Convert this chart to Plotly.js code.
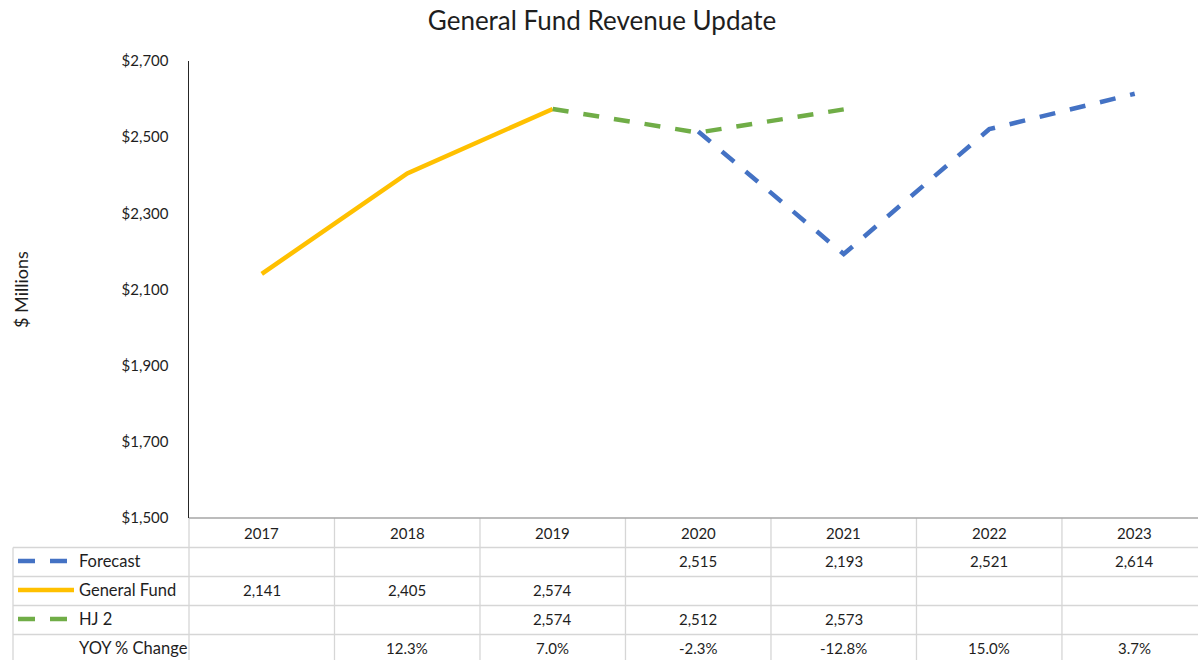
<!DOCTYPE html>
<html>
<head>
<meta charset="utf-8">
<script src="https://cdn.plot.ly/plotly-3.0.1.min.js"></script>
<style>html,body{margin:0;padding:0;background:#fff;}#chart{width:1198px;height:660px;}</style>
</head>
<body>
<div id="chart"></div>
<script>
// ---- data ----
const years = ['2017', '2018', '2019', '2020', '2021', '2022', '2023'];
const forecast = [null, null, null, 2515, 2193, 2521, 2614];
const generalFund = [2141, 2405, 2574, null, null, null, null];
const hj2 = [null, null, 2574, 2512, 2573, null, null];
const yoyChange = ['', '12.3%', '7.0%', '-2.3%', '-12.8%', '15.0%', '3.7%'];
const seriesNames = ['Forecast', 'General Fund', 'HJ 2', 'YOY % Change'];

// ---- styles ----
const FONT = 'Lato, "Open Sans", sans-serif';
const TXT = '#1e1e1e';
const BLUE = '#4472C4', GOLD = '#FFC000', GREEN = '#70AD47';
const GRID = '#d6d6d6';
const W = 1198, H = 660, L = 189, T = 61, B = 518;
const px2x = p => (p - L) / (W - L);
const py2y = p => (B - p) / (B - T);

const fmt = v => (v === null || v === undefined) ? '' : v.toLocaleString('en-US');

const traces = [
  {x: years, y: forecast, name: 'Forecast', mode: 'lines', line: {color: BLUE, width: 4.5, dash: '16px,15px'}},
  {x: years, y: generalFund, name: 'General Fund', mode: 'lines', line: {color: GOLD, width: 4.5}},
  {x: years, y: hj2, name: 'HJ 2', mode: 'lines', line: {color: GREEN, width: 4.5, dash: '16px,15px'}}
];

const rowCenters = [561, 590, 619, 648];
const rowValues = [forecast.map(fmt), generalFund.map(fmt), hj2.map(fmt), yoyChange];

const annotations = [];
// header years (category index positions on the x axis)
years.forEach((y, i) => annotations.push({x: i, xref: 'x', y: py2y(533), yref: 'paper', text: y, showarrow: false,
  font: {family: FONT, size: 15, color: TXT}, xanchor: 'center', yanchor: 'middle'}));
// table values
rowValues.forEach((row, r) => row.forEach((v, i) => {
  if (v !== '') annotations.push({x: i, xref: 'x', y: py2y(rowCenters[r]), yref: 'paper', text: v, showarrow: false,
    font: {family: FONT, size: 15, color: TXT}, xanchor: 'center', yanchor: 'middle'});
}));
// row labels
seriesNames.forEach((n, r) => annotations.push({x: px2x(77), xref: 'paper', y: py2y(rowCenters[r]), yref: 'paper', text: n,
  showarrow: false, font: {family: FONT, size: 16.5, color: TXT}, xanchor: 'left', yanchor: 'middle'}));
// y-axis title
annotations.push({x: px2x(21), xref: 'paper', y: py2y(290), yref: 'paper', text: '$ Millions', textangle: -90,
  showarrow: false, font: {family: FONT, size: 18, color: TXT}, xanchor: 'center', yanchor: 'middle'});

const shapes = [];
const hline = (py, x0p, x1p, color, w) => shapes.push({type: 'line', xref: 'paper', yref: 'paper',
  x0: px2x(x0p), x1: px2x(x1p), y0: py2y(py), y1: py2y(py), line: {color: color, width: w}});
const vlinePaper = (px, y0p, y1p) => shapes.push({type: 'line', xref: 'paper', yref: 'paper',
  x0: px2x(px), x1: px2x(px), y0: py2y(y0p), y1: py2y(y1p), line: {color: GRID, width: 1.3}});
[547.5, 576.5, 605.5, 634.5].forEach(p => hline(p, 13, W + 2, GRID, 1.3));
vlinePaper(13, 547.5, H + 5);
vlinePaper(L, B, H + 5);
for (let k = 0; k < years.length - 1; k++) {
  shapes.push({type: 'line', xref: 'x', yref: 'paper', x0: k + 0.5, x1: k + 0.5, y0: py2y(B), y1: py2y(H + 5),
    line: {color: GRID, width: 1.3}});
}
// legend keys
const key = (py, color, dash) => shapes.push({type: 'line', xref: 'paper', yref: 'paper',
  x0: px2x(18), x1: px2x(74), y0: py2y(py), y1: py2y(py), line: {color: color, width: 4.5, dash: dash}});
key(561, BLUE, '17px,15px');
key(590, GOLD, 'solid');
key(619, GREEN, '17px,15px');
// x-axis line on top of table
hline(B, L, W + 2, '#a6a6a6', 1.5);

const layout = {
  width: W, height: H,
  margin: {l: L, r: 0, t: T, b: H - B, pad: 0},
  paper_bgcolor: '#fff', plot_bgcolor: '#fff',
  showlegend: false,
  title: {text: 'General Fund Revenue Update', x: 602 / W, xref: 'container', xanchor: 'center', y: 1 - 21 / H, yref: 'container', yanchor: 'middle',
    font: {family: FONT, size: 26, color: TXT}},
  xaxis: {type: 'category', range: [-0.5, 6.435], showticklabels: false, ticks: '', showgrid: false, zeroline: false,
    showline: false, fixedrange: true},
  yaxis: {range: [1500, 2700], dtick: 200, tick0: 1500, tickprefix: '$', tickformat: ',d', showgrid: false, zeroline: false,
    showline: true, linecolor: '#262626', linewidth: 1.5, ticks: '', ticklabelstandoff: 16,
    tickfont: {family: FONT, size: 15, color: TXT}},
  annotations: annotations,
  shapes: shapes
};

Plotly.newPlot('chart', traces, layout, {displayModeBar: false, staticPlot: true});
</script>
</body>
</html>
